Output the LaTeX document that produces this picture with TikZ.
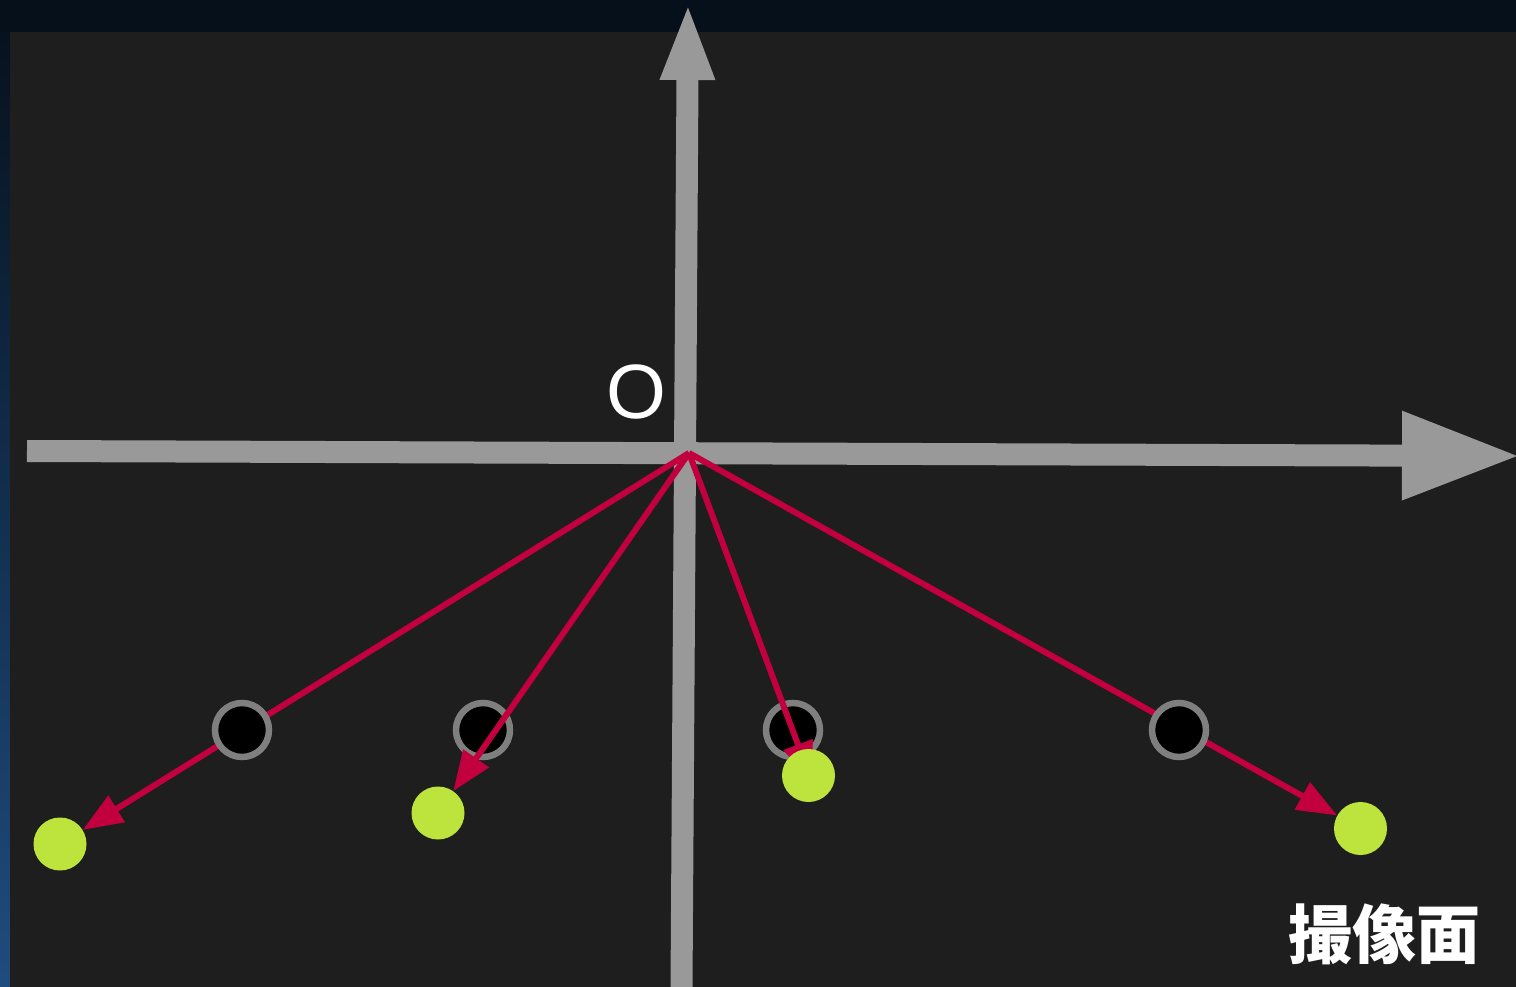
\documentclass[tikz,border=0pt]{standalone}
\usepackage{fontspec}
\setmainfont{Liberation Sans}
\newfontfamily\cjk{Noto Sans CJK JP}
\usetikzlibrary{arrows.meta}
\definecolor{navy}{HTML}{06101B}
\definecolor{stripblue}{HTML}{1F4C7E}
\definecolor{panel}{HTML}{1E1E1E}
\definecolor{axisgray}{HTML}{999999}
\definecolor{ringgray}{HTML}{7F7F7F}
\definecolor{rayred}{HTML}{C3003F}
\definecolor{dotgreen}{HTML}{BCE43C}
\pgfdeclarelayer{front}
\pgfsetlayers{main,front}
\begin{document}
\begin{tikzpicture}[x=1pt,y=-1pt,
  axis/.style={draw=axisgray, line width=22pt, line cap=butt},
  ray/.style={draw=rayred, line width=6pt, -{Triangle[length=40pt,width=30pt]}},
  blackdot/.style={circle, inner sep=0pt, minimum size=54pt, fill=black, draw=ringgray, line width=6.5pt},
  greendot/.style={circle, inner sep=0pt, minimum size=53pt, fill=dotgreen},
  lbl/.style={text=white, inner sep=0pt}]
\useasboundingbox (0,0) rectangle (1516,987);
\shade[top color=navy, bottom color=stripblue] (0,0) rectangle (10,987);
\fill[navy] (0,0) rectangle (1516,32);
\fill[panel] (10,32) rectangle (1516,987);
% axes
\coordinate (xl) at (27,451);
\coordinate (xr) at (1520,456);
\coordinate (yb) at (681.5,987);
\coordinate (yt) at (688,2);
\draw[axis, -{Triangle[length=118pt,width=83pt]}] (xl) -- (xr);
\draw[axis, -{Triangle[length=78pt,width=49pt]}] (yb) -- (yt);
\node[lbl, font=\fontsize{77}{77}\selectfont] (lblO) at (636.5,391.5) {O};
\coordinate (O) at (689,453);
% circles below the rays
\node[blackdot] (b2) at (483,730) {};
\node[blackdot] (b3) at (793,730) {};
% front layer
\begin{pgfonlayer}{front}
\node[blackdot] (b1) at (242,730) {};
\node[blackdot] (b4) at (1179,730) {};
\node[greendot] (g1) at (60,844) {};
\node[greendot] (g2) at (438,813) {};
\node[greendot] (g3) at (808.5,775.5) {};
\node[greendot] (g4) at (1360.5,828.5) {};
\end{pgfonlayer}
\coordinate (t3) at (812,782);
% rays
\draw[ray] (O) -- (g1);
\draw[ray] (O) -- (g2);
\draw[ray] (O) -- (t3);
\draw[ray] (O) -- (g4);
\node[lbl, font=\cjk\bfseries\fontsize{64}{64}\selectfont] (cap) at (1384,934) {撮像面};
\end{tikzpicture}
\end{document}
